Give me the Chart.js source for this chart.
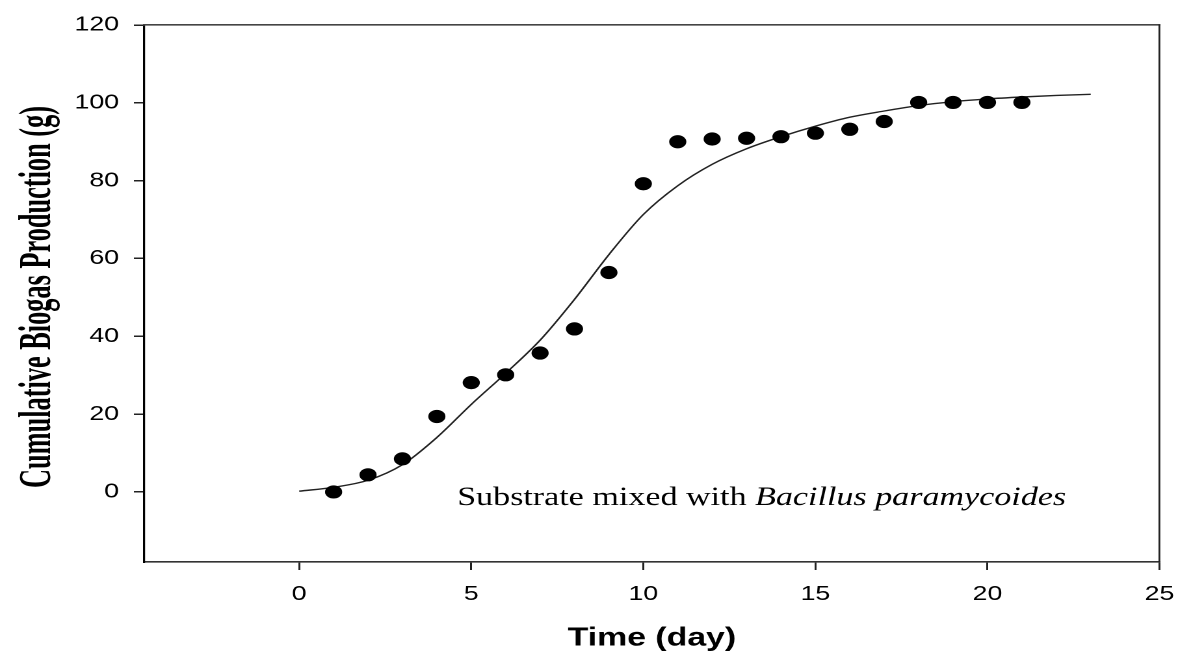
<!DOCTYPE html>
<html><head><meta charset="utf-8">
<script src="https://cdn.jsdelivr.net/npm/chart.js@4.4.1/dist/chart.umd.min.js"></script>
<style>
html,body{margin:0;padding:0;background:#fff;overflow:hidden;}
#wrap{width:906px;height:659px;transform:scaleX(1.30022);transform-origin:0 0;}
</style></head><body>
<div id="wrap"><canvas id="c" width="906" height="659"></canvas></div>
<script>
// Measured cumulative biogas (g) per day
const days = [1,2,3,4,5,6,7,8,9,10,11,12,13,14,15,16,17,18,19,20,21];
const measured = [0,4.4,8.5,19.4,28.1,30.1,35.7,41.9,56.4,79.2,90.0,90.7,90.9,91.3,92.2,93.2,95.2,100.1,100.1,100.1,100.1];
// Fitted model curve
const fitDays = [0,1,2,3,4,5,6,7,8,9,10,11,12,13,14,15,16,17,18,19,20,21,22,23];
const fitValues = [0.2,1.2,3.0,7.0,14.0,22.5,30.5,39.0,49.5,61.0,71.3,78.7,84.2,88.2,91.3,94.0,96.3,97.9,99.3,100.3,101.0,101.5,101.9,102.2];
const xTicks = [0,5,10,15,20,25];
const yTicks = [0,20,40,60,80,100,120];
const xTitle = 'Time (day)';
const yTitle = 'Cumulative Biogas Production (g)';
const noteRegular = 'Substrate mixed with ';
const noteItalic = 'Bacillus paramycoides';
const notePos = {x: 4.59, y: -3.35};

const pts = days.map((d,i)=>({x:d,y:measured[i]}));
const fit = fitDays.map((d,i)=>({x:d,y:fitValues[i]}));

const sans = '"Liberation Sans", Arial, sans-serif';
const serif = '"Liberation Serif", "Times New Roman", serif';

const textPlugin = {
  id:'texts',
  afterDraw(chart){
    const ctx = chart.ctx;
    const xs = chart.scales.x, ys = chart.scales.y;
    ctx.save();
    ctx.fillStyle = '#000';
    // annotation
    const px = xs.getPixelForValue(notePos.x), py = ys.getPixelForValue(notePos.y);
    ctx.textBaseline = 'alphabetic';
    ctx.textAlign = 'left';
    ctx.font = '26.2px ' + serif;
    ctx.fillText(noteRegular, px, py);
    const w = ctx.measureText(noteRegular).width;
    ctx.font = 'italic 26.2px ' + serif;
    ctx.fillText(noteItalic, px + w, py);
    // y title (condensed serif bold)
    ctx.font = 'bold 35px ' + serif;
    const tw = ctx.measureText(yTitle).width;
    const k = 382 / tw;
    ctx.translate(38.5, 297);
    ctx.rotate(-Math.PI/2);
    ctx.scale(k,1);
    ctx.textAlign = 'center';
    ctx.fillText(yTitle, 0, 0);
    ctx.restore();
  }
};

function noPad(s){ s.paddingLeft = 0; s.paddingRight = 0; s.paddingTop = 0; s.paddingBottom = 0; }

new Chart(document.getElementById('c'), {
  type:'scatter',
  data:{datasets:[
    {data:pts, showLine:false, pointRadius:6.6, pointHoverRadius:6.6, pointBackgroundColor:'#000', pointBorderColor:'#000', pointBorderWidth:0, order:0},
    {data:fit, showLine:true, pointRadius:0, borderColor:'#222', borderWidth:1.4, cubicInterpolationMode:'monotone', fill:false, order:1}
  ]},
  options:{
    responsive:false, animation:false, devicePixelRatio:2,
    layout:{padding:{top:25,right:14.2,bottom:0,left:0}},
    plugins:{legend:{display:false}, tooltip:{enabled:false}},
    scales:{
      x:{type:'linear', position:'bottom', min:-4.5, max:25,
        afterBuildTicks:s=>{s.ticks = xTicks.map(v=>({value:v}));},
        afterFit:s=>{s.height = 97; noPad(s);},
        ticks:{font:{family:sans,size:20.5}, color:'#000', padding:12},
        grid:{display:true, drawOnChartArea:false, drawTicks:true, tickLength:8, color:'#222', lineWidth:1.5},
        border:{display:true, color:'#333', width:1.6},
        title:{display:true, text:xTitle, color:'#000', font:{family:sans,size:26,weight:'bold'}, padding:{top:0,bottom:5}}
      },
      y:{type:'linear', position:'left', min:-18, max:120,
        afterBuildTicks:s=>{s.ticks = yTicks.map(v=>({value:v}));},
        afterFit:s=>{s.width = 111; noPad(s);},
        ticks:{font:{family:sans,size:20.5}, color:'#000', padding:11.5},
        grid:{display:true, drawOnChartArea:false, drawTicks:true, tickLength:8, color:'#222', lineWidth:1.5},
        border:{display:true, color:'#000', width:1.6}
      },
      xTop:{type:'linear', position:'top', display:true,
        afterFit:s=>{s.height = 0; noPad(s);},
        ticks:{display:false}, grid:{display:false, drawTicks:false},
        border:{display:true, color:'#444', width:1.6}
      },
      yRight:{type:'linear', position:'right', display:true,
        afterFit:s=>{s.width = 0; noPad(s);},
        ticks:{display:false}, grid:{display:false, drawTicks:false},
        border:{display:true, color:'#222', width:1.4}
      }
    }
  },
  plugins:[textPlugin]
});
</script>
</body></html>
